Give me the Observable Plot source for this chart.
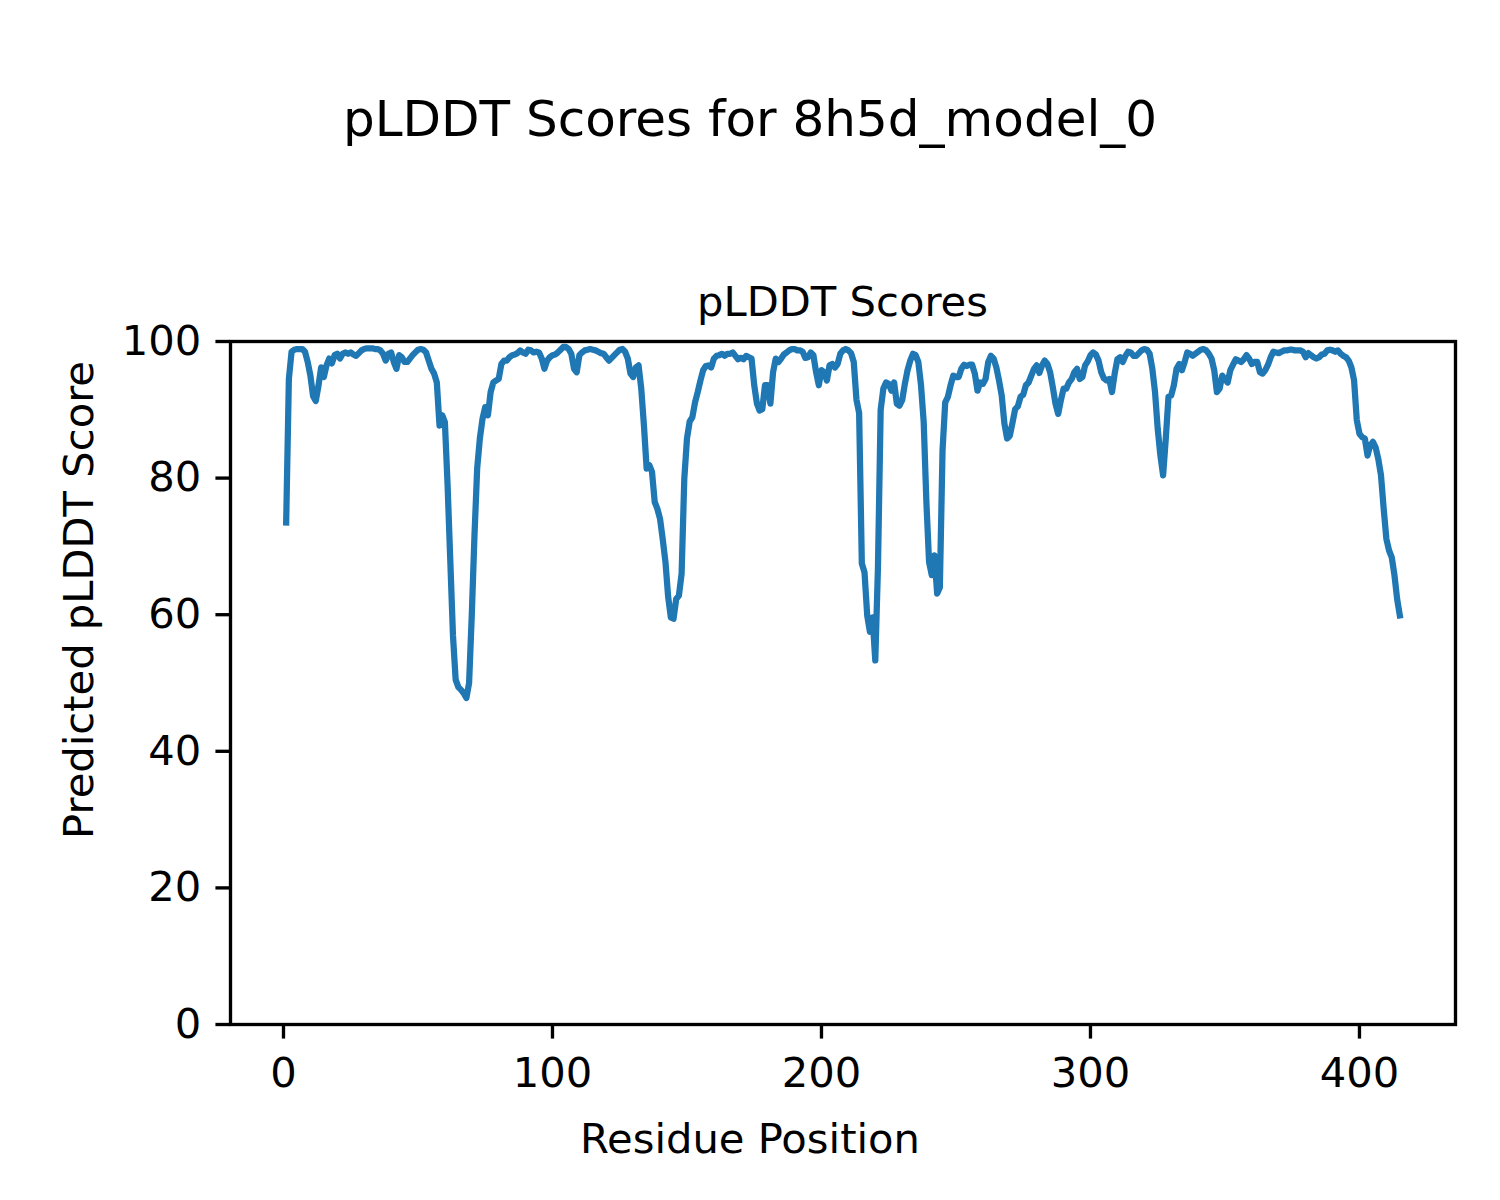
<!DOCTYPE html>
<html>
<head>
<meta charset="utf-8">
<script src="https://cdn.jsdelivr.net/npm/d3@7"></script>
<script src="https://cdn.jsdelivr.net/npm/@observablehq/plot@0.6"></script>
<style>
  html, body { margin: 0; padding: 0; background: #ffffff; }
  #chart svg { display: block; }
</style>
</head>
<body>
<div id="chart"></div>
<script>
// ---- Data ----
const figureTitle = "pLDDT Scores for 8h5d_model_0";
const axesTitle = "pLDDT Scores";
const xLabel = "Residue Position";
const yLabel = "Predicted pLDDT Score";
const xTicks = [0, 100, 200, 300, 400];
const yTicks = [0, 20, 40, 60, 80, 100];
const firstResidue = 1;

// pLDDT score per residue, residues 1..415
const scores = [
  // 1-33
  73.5, 94.5, 98.5, 98.8, 98.9, 98.9, 98.9, 98.5, 97.0, 95.0, 92.0, 91.3, 93.5, 96.2, 94.8, 96.5, 97.5, 96.8, 98.0, 98.2,
  97.5, 98.2, 98.4, 98.2, 98.4, 98.1, 97.9, 98.3, 98.7, 98.9, 99.0, 99.0, 99.0,
  // 34-69
  98.9, 98.9, 98.7, 98.2, 97.2, 98.2, 98.4, 97.0, 96.0, 98.0, 97.7, 97.0, 97.0, 97.5, 98.0, 98.4, 98.8, 98.9, 98.8, 98.4,
  97.2, 96.0, 95.3, 94.0, 87.7, 89.2, 88.2, 79.0, 68.0, 57.0, 50.5, 49.4, 49.0, 48.5, 47.8, 50.0,
  // 70-104
  60.0, 71.6, 81.4, 85.8, 88.7, 90.4, 89.2, 92.6, 94.0, 94.3, 94.5, 96.7, 97.2, 97.2, 97.7, 98.0, 98.1, 98.3, 98.7, 98.4,
  98.2, 98.8, 98.7, 98.4, 98.5, 98.4, 97.5, 96.0, 97.2, 97.7, 98.0, 98.1, 98.4, 98.8, 99.2,
  // 105-139
  99.2, 98.9, 98.2, 96.0, 95.5, 98.0, 98.4, 98.7, 98.8, 98.9, 98.8, 98.7, 98.5, 98.3, 98.2, 97.7, 97.2, 97.6, 98.0, 98.4,
  98.8, 98.9, 98.5, 97.5, 95.3, 94.8, 96.2, 96.5, 93.1, 87.7, 81.4, 81.9, 80.9, 76.5, 75.5,
  // 140-174
  74.0, 71.0, 67.7, 62.6, 59.6, 59.4, 62.3, 62.8, 66.0, 79.9, 85.8, 88.3, 88.9, 91.1, 92.6, 94.3, 95.8, 96.4, 96.5, 96.2,
  97.5, 97.9, 98.0, 98.2, 97.9, 98.2, 98.2, 98.4, 97.9, 97.4, 97.6, 97.4, 97.9, 97.7, 97.5,
  // 175-209
  93.6, 90.9, 89.9, 90.1, 93.6, 93.6, 90.9, 95.5, 97.5, 97.0, 97.5, 98.1, 98.4, 98.7, 98.9, 98.9, 98.7, 98.7, 98.5, 97.6,
  97.7, 98.4, 98.0, 95.5, 93.6, 95.8, 95.5, 94.3, 96.5, 96.7, 96.2, 96.7, 98.2, 98.7, 98.9,
  // 210-243
  98.7, 98.3, 97.0, 91.5, 89.5, 67.5, 66.2, 59.9, 57.5, 59.6, 53.3, 67.0, 90.0, 93.1, 94.0, 93.8, 92.8, 94.0, 90.9, 90.6,
  91.4, 93.8, 95.8, 97.2, 98.2, 98.0, 97.0, 93.6, 88.2, 76.5, 67.7, 65.8, 68.7, 63.1,
  // 244-280
  64.0, 84.0, 91.1, 91.9, 93.6, 95.0, 94.8, 94.8, 96.0, 96.6, 96.4, 96.6, 96.6, 95.3, 92.8, 94.0, 93.8, 94.5, 97.0, 97.9,
  97.5, 96.2, 94.3, 92.1, 88.0, 85.8, 86.2, 88.1, 90.1, 90.5, 91.9, 92.2, 93.6, 94.0, 95.0, 96.0, 96.5,
  // 281-315
  95.4, 96.5, 97.2, 96.7, 95.5, 93.3, 90.9, 89.4, 91.4, 93.1, 93.1, 94.0, 94.5, 95.5, 96.0, 94.5, 94.8, 96.5, 97.1, 98.0,
  98.4, 98.1, 97.2, 95.5, 94.6, 94.3, 94.5, 92.6, 95.3, 97.4, 97.7, 97.0, 97.9, 98.5, 98.4,
  // 316-350
  97.9, 97.9, 98.3, 98.7, 98.9, 98.8, 98.2, 96.0, 92.6, 87.2, 83.3, 80.4, 85.8, 91.9, 92.1, 93.6, 96.0, 96.7, 95.8, 97.0,
  98.4, 98.2, 97.9, 98.2, 98.5, 98.8, 98.9, 98.7, 98.2, 97.5, 95.8, 92.6, 93.1, 95.0, 94.5,
  // 351-386
  94.0, 95.8, 96.6, 97.4, 97.2, 97.0, 97.4, 98.0, 97.5, 96.7, 97.0, 97.0, 95.5, 95.3, 95.8, 96.6, 97.7, 98.5, 98.4, 98.3,
  98.5, 98.7, 98.7, 98.8, 98.8, 98.7, 98.7, 98.7, 98.5, 97.7, 98.3, 98.0, 97.7, 97.5, 97.7, 98.1,
  // 387-415
  98.2, 98.7, 98.8, 98.7, 98.5, 98.7, 98.2, 97.9, 97.7, 97.2, 96.2, 94.3, 88.5, 86.5, 86.0, 85.8, 83.3, 84.8, 85.3, 84.5,
  82.8, 80.4, 75.5, 71.1, 69.4, 68.4, 65.8, 62.3, 59.9
];

// ---- Build table ----
const data = scores.map((s, i) => ({residue: firstResidue + i, score: s}));

// matplotlib-like 5% x margins
const [rMin, rMax] = d3.extent(data, d => d.residue);
const pad = (rMax - rMin) * 0.05;

const FONT = "DejaVu Sans, Liberation Sans, sans-serif";
const PT = 300 / 72; // px per point at 300 dpi

const svg = Plot.plot({
  width: 1500,
  height: 1200,
  marginLeft: 230,
  marginRight: 45,
  marginTop: 341,
  marginBottom: 176,
  style: {fontFamily: FONT, fontSize: `${10 * PT}px`, color: "black", background: "white", overflow: "visible"},
  x: {domain: [rMin - pad, rMax + pad]},
  y: {domain: [0, 100]},
  marks: [
    Plot.line(data, {
      x: "residue", y: "score",
      stroke: "#1f77b4", strokeWidth: 1.5 * PT,
      strokeLinejoin: "round", strokeLinecap: "square"
    }),
    Plot.frame({stroke: "black", strokeWidth: 0.8 * PT}),
    Plot.axisX({
      ticks: xTicks, tickSize: 3.5 * PT, tickPadding: 18.8,
      strokeWidth: 0.8 * PT, fontSize: 10 * PT, label: null, tickFormat: d => String(d)
    }),
    Plot.axisY({
      ticks: yTicks, tickSize: 3.5 * PT, tickPadding: 3.5 * PT,
      strokeWidth: 0.8 * PT, fontSize: 10 * PT, label: null, tickFormat: d => String(d)
    })
  ]
});

const s = d3.select(svg);
s.append("text")
  .attr("x", 750).attr("y", 136)
  .attr("text-anchor", "middle")
  .attr("font-family", FONT).attr("font-size", 12 * PT)
  .attr("fill", "black")
  .text(figureTitle);

s.append("text")
  .attr("x", (230 + 1455) / 2).attr("y", 316)
  .attr("text-anchor", "middle")
  .attr("font-family", FONT).attr("font-size", 10 * PT)
  .attr("fill", "black")
  .text(axesTitle);

s.append("text")
  .attr("x", 750).attr("y", 1153)
  .attr("text-anchor", "middle")
  .attr("font-family", FONT).attr("font-size", 10 * PT)
  .attr("fill", "black")
  .text(xLabel);

s.append("text")
  .attr("transform", "translate(93,600) rotate(-90)")
  .attr("text-anchor", "middle")
  .attr("font-family", FONT).attr("font-size", 10 * PT)
  .attr("fill", "black")
  .text(yLabel);

document.getElementById("chart").appendChild(svg);
</script>
</body>
</html>
